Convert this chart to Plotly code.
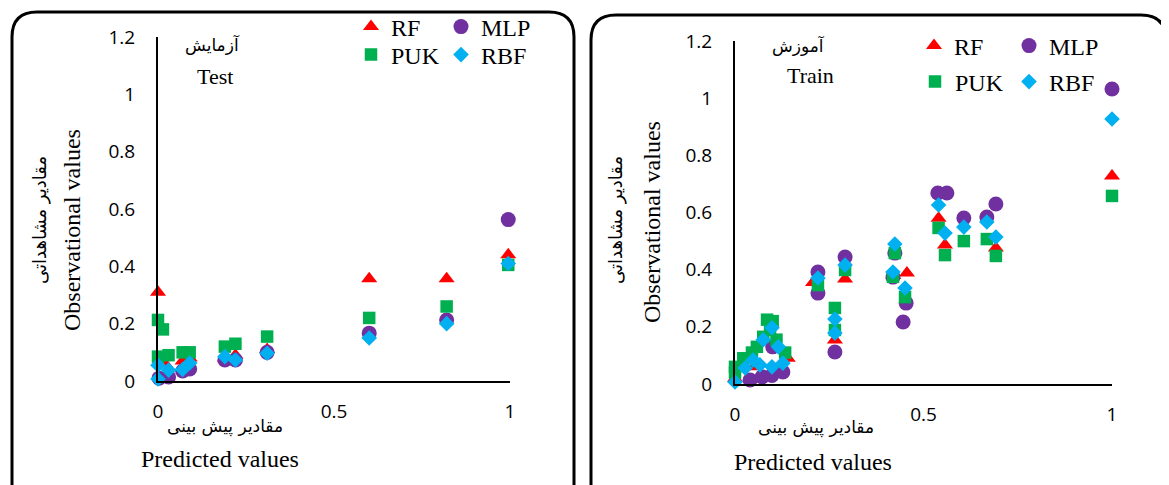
import plotly.graph_objects as go

W, H = 1169, 485
OFF = 8  # page body margin

# ---------------- data: Test panel ----------------
test_rf_x = [0.0, 0.02, 0.07, 0.09, 0.19, 0.22, 0.31, 0.60, 0.82, 0.995]
test_rf_y = [0.31, 0.06, 0.07, 0.08, 0.08, 0.09, 0.11, 0.357, 0.357, 0.44]
test_mlp_x = [0.003, 0.03, 0.07, 0.09, 0.19, 0.22, 0.31, 0.60, 0.82, 0.995]
test_mlp_y = [0.01, 0.014, 0.035, 0.042, 0.073, 0.073, 0.10, 0.167, 0.213, 0.563]
test_puk_x = [0.0, 0.014, 0.0, 0.03, 0.07, 0.09, 0.19, 0.22, 0.31, 0.60, 0.82, 0.995]
test_puk_y = [0.213, 0.18, 0.085, 0.09, 0.10, 0.10, 0.12, 0.13, 0.155, 0.22, 0.26, 0.405]
test_rbf_x = [0.0, 0.0, 0.03, 0.07, 0.09, 0.19, 0.22, 0.31, 0.60, 0.82, 0.995]
test_rbf_y = [0.007, 0.055, 0.038, 0.04, 0.063, 0.085, 0.073, 0.097, 0.15, 0.20, 0.41]

# ---------------- data: Train panel ----------------
train_rf_x = [0.0, 0.05, 0.14, 0.207, 0.265, 0.292, 0.42, 0.456, 0.54, 0.557, 0.692, 1.0]
train_rf_y = [0.02, 0.06, 0.09, 0.355, 0.154, 0.367, 0.38, 0.388, 0.58, 0.486, 0.476, 0.728]
train_mlp_x = [0.04, 0.072, 0.098, 0.127, 0.10, 0.22, 0.22, 0.265, 0.292, 0.419, 0.424, 0.446,
               0.454, 0.538, 0.562, 0.607, 0.668, 0.692, 1.0]
train_mlp_y = [0.014, 0.025, 0.03, 0.042, 0.13, 0.392, 0.318, 0.112, 0.444, 0.374, 0.458, 0.217,
               0.283, 0.668, 0.668, 0.581, 0.584, 0.63, 1.032]
train_puk_x = [0.0, 0.0, 0.022, 0.045, 0.058, 0.075, 0.085, 0.093, 0.10, 0.11, 0.133, 0.22, 0.265,
               0.265, 0.292, 0.419, 0.424, 0.451, 0.54, 0.557, 0.607, 0.668, 0.692, 1.0]
train_puk_y = [0.04, 0.06, 0.09, 0.11, 0.13, 0.165, 0.225, 0.19, 0.22, 0.155, 0.11, 0.346, 0.266,
               0.189, 0.399, 0.375, 0.458, 0.304, 0.546, 0.451, 0.50, 0.507, 0.448, 0.658]
train_rbf_x = [0.0, 0.027, 0.048, 0.066, 0.075, 0.098, 0.098, 0.115, 0.127, 0.22, 0.265, 0.265,
               0.292, 0.419, 0.424, 0.451, 0.54, 0.557, 0.607, 0.668, 0.692, 1.0]
train_rbf_y = [0.007, 0.056, 0.084, 0.067, 0.155, 0.197, 0.06, 0.13, 0.073, 0.371, 0.227, 0.178,
               0.416, 0.392, 0.49, 0.336, 0.626, 0.528, 0.549, 0.567, 0.514, 0.927]

series_names = ["RF", "MLP", "PUK", "RBF"]
x_tick_vals = [0, 0.5, 1]
x_tick_text = ["0", "0.5", "1"]
y_tick_vals = [0, 0.2, 0.4, 0.6, 0.8, 1.0, 1.2]
y_tick_text = ["0", "0.2", "0.4", "0.6", "0.8", "1", "1.2"]

# ---------------- styling ----------------
colors = {"RF": "#FF0000", "MLP": "#7030A0", "PUK": "#00B050", "RBF": "#00B0F0"}
symbols = {"RF": "triangle-up", "MLP": "circle", "PUK": "square", "RBF": "diamond"}
sizes = {"RF": 14, "MLP": 15, "PUK": 12.5, "RBF": 12}

SERIF = "Liberation Serif, Times New Roman, serif"
ARAB = "DejaVu Sans, sans-serif"
TICKF = "Open Sans, sans-serif"


def X(px):
    return (px - OFF) / W


def Y(py):
    return 1 - (py - OFF) / H


fig = go.Figure()

panels = [
    ("x", "y", {"RF": (test_rf_x, test_rf_y), "MLP": (test_mlp_x, test_mlp_y),
                "PUK": (test_puk_x, test_puk_y), "RBF": (test_rbf_x, test_rbf_y)}),
    ("x2", "y2", {"RF": (train_rf_x, train_rf_y), "MLP": (train_mlp_x, train_mlp_y),
                  "PUK": (train_puk_x, train_puk_y), "RBF": (train_rbf_x, train_rbf_y)}),
]

# legend item symbol centers in screenshot px
legend_pos = [
    {"RF": (375, 27), "MLP": (465, 27), "PUK": (375, 55), "RBF": (465, 55)},
    {"RF": (938, 46), "MLP": (1033, 46), "PUK": (939, 82), "RBF": (1033, 82)},
]

layout_legends = {}
li = 1
for p, (xa, ya, data) in enumerate(panels):
    for name in series_names:
        xs, ys = data[name]
        lname = "legend" if li == 1 else f"legend{li}"
        fig.add_trace(go.Scatter(
            x=xs, y=ys, mode="markers", name=name, xaxis=xa, yaxis=ya,
            cliponaxis=False, legend=lname, showlegend=True,
            marker=dict(symbol=symbols[name], color=colors[name], size=sizes[name],
                        line=dict(width=0)),
        ))
        cx, cy = legend_pos[p][name]
        layout_legends[lname] = dict(
            x=X(cx - 24), y=Y(cy), xanchor="left", yanchor="middle",
            orientation="h", bgcolor="rgba(0,0,0,0)", borderwidth=0,
            font=dict(family=SERIF, size=24, color="black"), itemsizing="trace",
        )
        li += 1

axis_common = dict(showline=True, linecolor="black", linewidth=2, showgrid=False,
                   zeroline=False, ticks="", tickmode="array", automargin=False,
                   tickfont=dict(family=TICKF, size=19, color="black"))

fig.update_layout(
    width=W, height=H, margin=dict(l=0, r=0, t=0, b=0, pad=0, autoexpand=False),
    paper_bgcolor="white", plot_bgcolor="white",
    xaxis=dict(domain=[X(158), X(510)], range=[0, 1], anchor="y",
               tickvals=x_tick_vals, ticktext=x_tick_text, ticklabelstandoff=12, **axis_common),
    yaxis=dict(domain=[Y(381), Y(37)], range=[0, 1.2], anchor="x",
               tickvals=y_tick_vals, ticktext=y_tick_text, ticklabelstandoff=17, **axis_common),
    xaxis2=dict(domain=[X(735), X(1112)], range=[0, 1], anchor="y2",
                tickvals=x_tick_vals, ticktext=x_tick_text, ticklabelstandoff=12, **axis_common),
    yaxis2=dict(domain=[Y(384), Y(41)], range=[0, 1.2], anchor="x2",
                tickvals=y_tick_vals, ticktext=y_tick_text, ticklabelstandoff=17, **axis_common),
    **layout_legends,
)


def ann(text, px, py, font, size, angle=0):
    fig.add_annotation(text=text, x=X(px), y=Y(py), xref="paper", yref="paper",
                       xanchor="center", yanchor="middle", showarrow=False, textangle=angle,
                       font=dict(family=font, size=size, color="black"))


# Test panel texts
ann("آزمایش", 213, 45, ARAB, 17)
ann("Test", 215, 77, SERIF, 22)
ann("مقادیر پیش بینی", 225, 426, ARAB, 17)
ann("Predicted values", 220, 459, SERIF, 24)
ann("Observational values", 72, 230, SERIF, 24, -90)
ann("مقادیر مشاهداتی", 40, 220, ARAB, 18, -90)

# Train panel texts
ann("آموزش", 798, 46, ARAB, 17)
ann("Train", 810, 76, SERIF, 22)
ann("مقادیر پیش بینی", 816, 427, ARAB, 17)
ann("Predicted values", 813, 462, SERIF, 24)
ann("Observational values", 652, 222, SERIF, 24, -90)
ann("مقادیر مشاهداتی", 616, 220, ARAB, 18, -90)


# rounded panel borders
def rounded(x1, x2, top, bottom, r):
    return (f"M {X(x1)},{Y(bottom)} L {X(x1)},{Y(top + r)} "
            f"Q {X(x1)},{Y(top)} {X(x1 + r)},{Y(top)} "
            f"L {X(x2 - r)},{Y(top)} Q {X(x2)},{Y(top)} {X(x2)},{Y(top + r)} "
            f"L {X(x2)},{Y(bottom)}")


for (x1, x2, top) in [(12, 574, 12), (591, 1166, 15)]:
    fig.add_shape(type="path", path=rounded(x1, x2, top, 530, 25), xref="paper", yref="paper",
                  line=dict(color="black", width=3), layer="below")

fig.write_html("out.html")
